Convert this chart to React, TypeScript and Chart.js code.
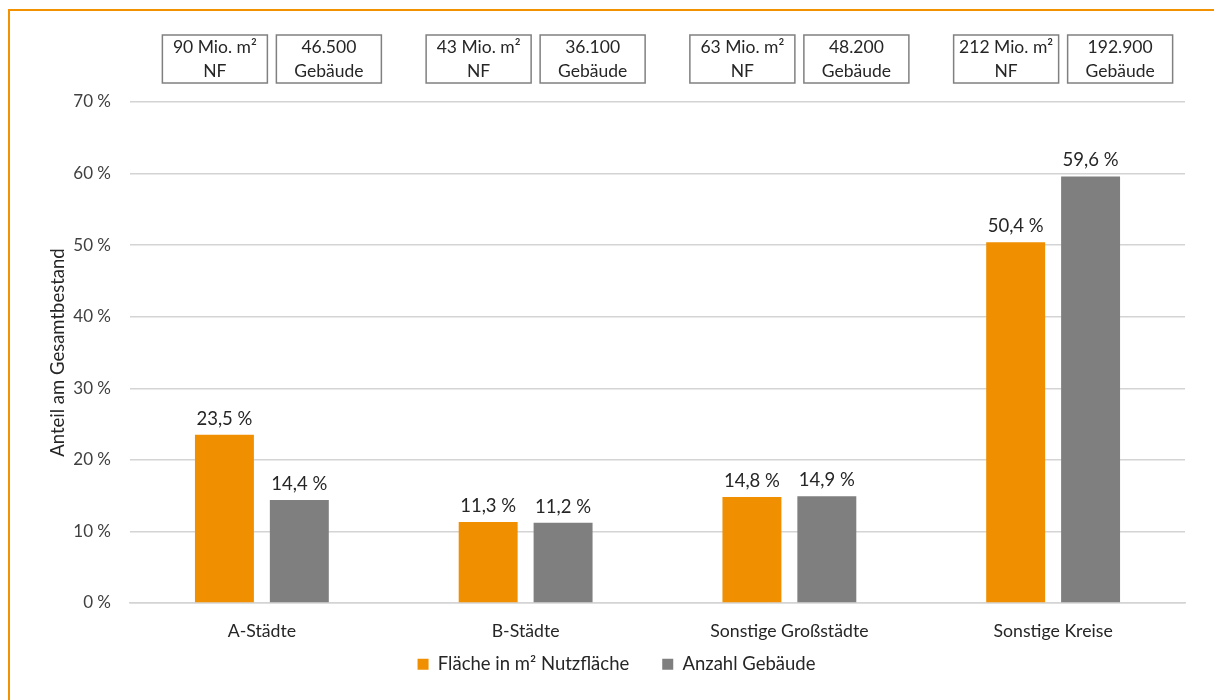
import React, { useEffect, useRef } from "react";
import { Chart, registerables } from "chart.js";

Chart.register(...registerables);

const categories = ["A-Städte", "B-Städte", "Sonstige Großstädte", "Sonstige Kreise"];
const flaecheValues = [23.5, 11.3, 14.8, 50.4];
const gebaeudeValues = [14.4, 11.2, 14.9, 59.6];
const flaecheBoxLabels = [
  ["90 Mio. m²", "NF"],
  ["43 Mio. m²", "NF"],
  ["63 Mio. m²", "NF"],
  ["212 Mio. m²", "NF"],
];
const gebaeudeBoxLabels = [
  ["46.500", "Gebäude"],
  ["36.100", "Gebäude"],
  ["48.200", "Gebäude"],
  ["192.900", "Gebäude"],
];
const seriesNames = ["Fläche in m² Nutzfläche", "Anzahl Gebäude"];
const yTicks = [0, 10, 20, 30, 40, 50, 60, 70];

const ORANGE = "#F08F00";
const GRAY = "#7F7F7F";
const TEXT = "#262626";
const FONT = "Lato";

const dataLabelPlugin = {
  id: "dataLabels",
  afterDatasetsDraw(chart: any) {
    const ctx = chart.ctx;
    ctx.save();
    ctx.font = `18.5px ${FONT}`;
    ctx.fillStyle = TEXT;
    ctx.textAlign = "center";
    ctx.textBaseline = "middle";
    chart.data.datasets.forEach((ds: any, di: number) => {
      const meta = chart.getDatasetMeta(di);
      meta.data.forEach((el: any, i: number) => {
        const v = ds.data[i] as number;
        const txt = v.toFixed(1).replace(".", ",") + " %";
        ctx.fillText(txt, el.x, el.y - 16);
      });
    });
    ctx.restore();
  },
};

const topBoxesPlugin = {
  id: "topBoxes",
  afterDraw(chart: any) {
    const ctx = chart.ctx;
    const xs = chart.scales.x;
    const w = 105;
    const h = 48;
    const top = 24;
    ctx.save();
    ctx.font = `17.5px ${FONT}`;
    ctx.textAlign = "center";
    ctx.textBaseline = "middle";
    categories.forEach((_, i) => {
      const cx = xs.getPixelForValue(i) + 10;
      const groups = [
        { c: cx - 57, lines: flaecheBoxLabels[i] },
        { c: cx + 57, lines: gebaeudeBoxLabels[i] },
      ];
      groups.forEach((g) => {
        ctx.fillStyle = "#ffffff";
        ctx.fillRect(g.c - w / 2, top, w, h);
        ctx.strokeStyle = "#808080";
        ctx.lineWidth = 1.5;
        ctx.strokeRect(g.c - w / 2, top, w, h);
        ctx.fillStyle = TEXT;
        ctx.fillText(g.lines[0], g.c, top + 12);
        ctx.fillText(g.lines[1], g.c, top + 36);
      });
    });
    ctx.restore();
  },
};

const legendShiftPlugin = {
  id: "legendShift",
  afterLayout(chart: any) {
    const lg = chart.legend;
    if (lg) {
      lg.top -= 21;
      lg.bottom -= 21;
      lg.left += 38;
      lg.right += 0;
    }
  },
};

export default function App() {
  const ref = useRef<HTMLCanvasElement | null>(null);
  useEffect(() => {
    if (!ref.current) return;
    const chart = new Chart(ref.current, {
      type: "bar",
      data: {
        labels: categories,
        datasets: [
          {
            label: seriesNames[0],
            data: flaecheValues,
            backgroundColor: ORANGE,
            categoryPercentage: 0.568,
            barPercentage: 0.787,
          },
          {
            label: seriesNames[1],
            data: gebaeudeValues,
            backgroundColor: GRAY,
            categoryPercentage: 0.568,
            barPercentage: 0.787,
          },
        ],
      },
      options: {
        responsive: false,
        animation: false,
        devicePixelRatio: 1,
        layout: { padding: { top: 91, right: 29, bottom: 6.5, left: 0 } },
        plugins: {
          legend: {
            position: "bottom",
            labels: {
              font: { family: FONT, size: 18.5 },
              color: TEXT,
              boxWidth: 11,
              boxHeight: 11,
              padding: 33,
            },
          },
          tooltip: { enabled: false },
        },
        scales: {
          x: {
            afterFit: (s: any) => {
              s.height = 40;
            },
            grid: { display: false, drawTicks: false },
            border: { display: true, color: "#d4d4d4", width: 1.5 },
            ticks: { font: { family: FONT, size: 17.7 }, color: TEXT, padding: 18, autoSkip: false },
          },
          y: {
            min: 0,
            max: 70,
            afterBuildTicks: (s: any) => {
              s.ticks = yTicks.map((v) => ({ value: v }));
            },
            afterFit: (s: any) => {
              s.width = 120;
            },
            grid: { color: "#d4d4d4", lineWidth: 1.5, drawTicks: false },
            border: { display: false },
            ticks: {
              font: { family: FONT, size: 17 },
              color: "#404040",
              padding: 19,
              callback: (v: any) => v + " %",
            },
            title: {
              display: true,
              text: "Anteil am Gesamtbestand",
              font: { family: FONT, size: 18.5 },
              color: TEXT,
              padding: { top: 37, bottom: 0 },
            },
          },
        },
      },
      plugins: [dataLabelPlugin, topBoxesPlugin, legendShiftPlugin],
    });
    return () => chart.destroy();
  }, []);
  return (
    <div
      style={{
        position: "fixed",
        left: 8,
        top: 9,
        width: 1300,
        height: 800,
        overflow: "hidden",
        borderTop: "2px solid #F39200",
        borderLeft: "2px solid #F39200",
        background: "#fff",
      }}
    >
      <canvas ref={ref} width={1204} height={700} style={{ display: "block" }} />
    </div>
  );
}
